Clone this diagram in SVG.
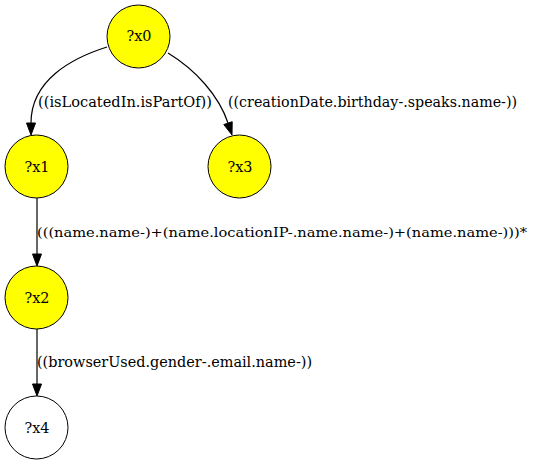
<svg xmlns="http://www.w3.org/2000/svg" width="537" height="464" viewBox="0 0 537 464">
<style>
.node circle{stroke:#000;stroke-width:1}
.y{fill:#ffff00}
.w{fill:#fff}
text{font-family:'DejaVu Serif','Liberation Serif',serif;font-size:15px;fill:#000}
.c{text-anchor:middle}
.s{font-size:13.5px}
.edge path{fill:none;stroke:#000;stroke-width:1.2}
.edge polygon{fill:#000;stroke:#000;stroke-width:1}
</style>
<rect width="537" height="464" fill="#fff"/>
<g id="edges" class="edge">
<g id="e_x0_x1">
<path d="M107,47 C72,58 31,80 31,123"/>
<polygon points="26.5,123 31,135 35.5,123"/>
<text x="38" y="107" textLength="174" lengthAdjust="spacingAndGlyphs">((isLocatedIn.isPartOf))</text>
</g>
<g id="e_x0_x3">
<path d="M168,53 C196,70 219,96 228,123"/>
<polygon points="223.8,124.6 232,135 232.2,121.7"/>
<text x="228" y="107" textLength="289" lengthAdjust="spacingAndGlyphs">((creationDate.birthday-.speaks.name-))</text>
</g>
<g id="e_x1_x2">
<path d="M37,198 L37,254"/>
<polygon points="32.5,254 37,266 41.5,254"/>
<text class="s" x="37" y="237" textLength="490" lengthAdjust="spacingAndGlyphs">(((name.name-)+(name.locationIP-.name.name-)+(name.name-)))*</text>
</g>
<g id="e_x2_x4">
<path d="M37,329 L37,384"/>
<polygon points="32.5,384 37,396 41.5,384"/>
<text x="37" y="367" textLength="275" lengthAdjust="spacingAndGlyphs">((browserUsed.gender-.email.name-))</text>
</g>
</g>
<g id="x0" class="node"><circle class="y" cx="138.5" cy="36.5" r="31.5"/><text class="c" x="139" y="41" textLength="25" lengthAdjust="spacingAndGlyphs">?x0</text></g>
<g id="x1" class="node"><circle class="y" cx="36.5" cy="166.5" r="31.5"/><text class="c" x="37" y="171.5" textLength="25" lengthAdjust="spacingAndGlyphs">?x1</text></g>
<g id="x3" class="node"><circle class="y" cx="239.5" cy="166.5" r="31.5"/><text class="c" x="240" y="171.5" textLength="25" lengthAdjust="spacingAndGlyphs">?x3</text></g>
<g id="x2" class="node"><circle class="y" cx="36.5" cy="297.5" r="31.5"/><text class="c" x="37" y="302.5" textLength="25" lengthAdjust="spacingAndGlyphs">?x2</text></g>
<g id="x4" class="node"><circle class="w" cx="36.5" cy="427.5" r="31.5"/><text class="c" x="37" y="432.5" textLength="25" lengthAdjust="spacingAndGlyphs">?x4</text></g>
</svg>
